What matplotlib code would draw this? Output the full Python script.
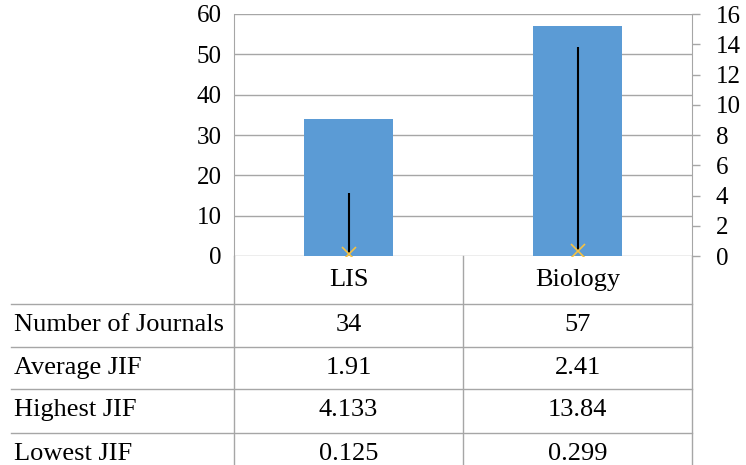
import matplotlib.pyplot as plt
from matplotlib.lines import Line2D

categories = ['LIS', 'Biology']
num_journals = [34, 57]
avg_jif = [1.91, 2.41]
high_jif = [4.133, 13.84]
low_jif = [0.125, 0.299]

row_labels = ['Number of Journals', 'Average JIF', 'Highest JIF', 'Lowest JIF']
row_values = [['34', '57'], ['1.91', '2.41'], ['4.133', '13.84'], ['0.125', '0.299']]

plt.rcParams['font.family'] = ['Liberation Serif', 'DejaVu Serif']
W, H = 746, 465
fig = plt.figure(figsize=(W / 100, H / 100), dpi=100)

# plot area in pixels
L, R, T, B = 234, 692, 14, 256
ax = fig.add_axes([L / W, (H - B) / H, (R - L) / W, (B - T) / H])
grid_c = '#a6a6a6'

x = list(range(len(categories)))
ax.bar(x, num_journals, width=0.39, color='#5b9bd5', zorder=2)
ax.set_xlim(-0.5, 1.5)
ax.set_ylim(0, 60)
ax.set_yticks(range(0, 61, 10))
ax.set_xticks([])
ax.grid(axis='y', color=grid_c, linewidth=1, zorder=0)
ax.tick_params(axis='y', length=0, pad=9, labelsize=18)
for s in ['top', 'bottom', 'right']:
    ax.spines[s].set_visible(False)
ax.spines['left'].set_color(grid_c)

ax2 = ax.twinx()
ax2.set_ylim(0, 16)
ax2.set_yticks(range(0, 17, 2))
ax2.vlines(x, low_jif, high_jif, color='black', linewidth=1.5, zorder=3)
ax2.plot(x, low_jif, linestyle='none', marker='x', markersize=10,
         markeredgewidth=1.2, color='#f5c242', zorder=4)
ax2.tick_params(axis='y', length=6, width=1, color=grid_c, pad=11, labelsize=18)
for s in ['top', 'bottom', 'left']:
    ax2.spines[s].set_visible(False)
ax2.spines['right'].set_color(grid_c)

# data table below the plot
def fx(px):
    return px / W

def fy(py):
    return 1 - py / H

def hline(x0, x1, y):
    fig.add_artist(Line2D([fx(x0), fx(x1)], [fy(y), fy(y)], color=grid_c, linewidth=1))

def vline(xp, y0, y1):
    fig.add_artist(Line2D([fx(xp), fx(xp)], [fy(y0), fy(y1)], color=grid_c, linewidth=1))

col_edges = [L, (L + R) / 2, R]
row_lines = [304, 347, 389, 433]
row_h = 42

for xp in col_edges:
    vline(xp, B, H)
for yl in row_lines:
    hline(11, R, yl)

for i, c in enumerate(categories):
    cx = (col_edges[i] + col_edges[i + 1]) / 2
    fig.text(fx(cx), fy((B + row_lines[0]) / 2), c, ha='center', va='center', fontsize=19)

for r, (lab, vals) in enumerate(zip(row_labels, row_values)):
    cy = row_lines[r] + row_h / 2
    fig.text(fx(14), fy(cy), lab, ha='left', va='center', fontsize=19)
    for i, v in enumerate(vals):
        cx = (col_edges[i] + col_edges[i + 1]) / 2
        fig.text(fx(cx), fy(cy), v, ha='center', va='center', fontsize=19)

fig.savefig('out.png', dpi=100)
